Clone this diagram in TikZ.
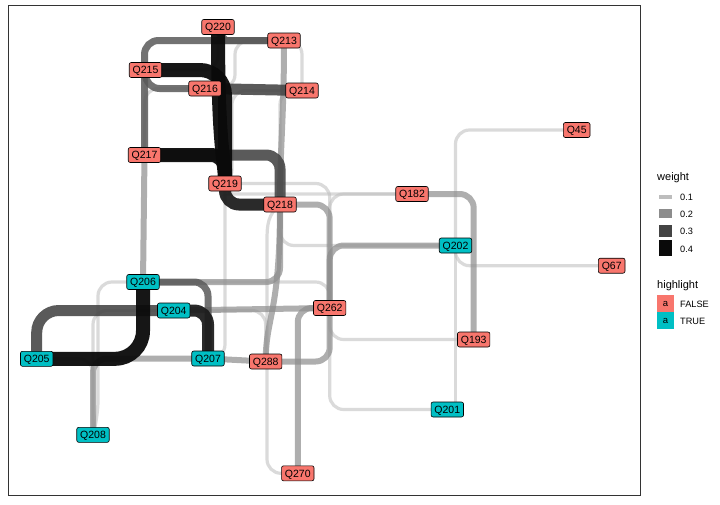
\documentclass[tikz,border=0pt]{standalone}
\usepackage{fontspec}
\setmainfont{Liberation Sans}
\usetikzlibrary{calc}
\pgfdeclarelayer{back}
\pgfdeclarelayer{bg}
\pgfsetlayers{back,bg,main}
\definecolor{fpink}{HTML}{F8766D}
\definecolor{fteal}{HTML}{00BFC4}
\definecolor{cw1}{HTML}{BDBDBD}
\definecolor{cw2}{HTML}{8C8C8C}
\definecolor{cw2d}{HTML}{5A5A5A}
\definecolor{cw3}{HTML}{444444}
\definecolor{cw35}{HTML}{1A1A1A}
\definecolor{cw4}{HTML}{0A0A0A}
\definecolor{frame}{HTML}{333333}
\begin{document}
\begin{tikzpicture}[x=1pt,y=-1pt,
  lab/.style={draw=black, line width=0.6pt, rounded corners=2pt, minimum height=15pt,
    inner xsep=3.4pt, inner ysep=0pt, text height=7.6pt, text depth=0pt,
    font=\fontsize{10.5}{12}\selectfont},
  hf/.style={lab, fill=fpink},
  ht/.style={lab, fill=fteal},
  edge/.style={rounded corners=14pt, line cap=butt},
  w1/.style={edge, draw=cw1, line width=3.2pt, draw opacity=0.55},
  w2/.style={edge, draw=cw2, line width=6pt, draw opacity=0.7},
  w2d/.style={edge, draw=cw2d, line width=7pt, draw opacity=0.85},
  w3/.style={edge, draw=cw3, line width=11pt, draw opacity=0.88},
  w35/.style={edge, draw=cw35, line width=12pt, draw opacity=0.93},
  w4/.style={edge, draw=cw4, line width=14pt, draw opacity=0.95},
  legt/.style={anchor=west, inner sep=0pt, font=\fontsize{11}{13}\selectfont},
  legl/.style={anchor=west, inner sep=0pt, font=\fontsize{9.2}{11}\selectfont},
  legk/.style={inner sep=0pt, font=\fontsize{9.5}{11}\selectfont}
]
\useasboundingbox (0,0) rectangle (720,504);
\begin{pgfonlayer}{back}
\fill[white] (0,0) rectangle (720,504);
\draw[draw=frame, line width=1pt] (8,5) rectangle (640,495);
\end{pgfonlayer}

% nodes
\node[hf] (Q220) at (218,27) {Q220};
\node[hf] (Q213) at (284,40.5) {Q213};
\node[hf] (Q215) at (145.5,70) {Q215};
\node[hf] (Q216) at (205,88.5) {Q216};
\node[hf] (Q214) at (302,90.5) {Q214};
\node[hf] (Q217) at (144.5,155) {Q217};
\node[hf] (Q219) at (225,183.5) {Q219};
\node[hf] (Q218) at (280,204.5) {Q218};
\node[hf] (Q45) at (576.7,130) {Q45};
\node[hf] (Q182) at (412,194) {Q182};
\node[ht] (Q202) at (455.5,245.5) {Q202};
\node[hf] (Q67) at (611.7,265.7) {Q67};
\node[hf] (Q262) at (329.7,308) {Q262};
\node[hf] (Q193) at (473.7,339.5) {Q193};
\node[hf] (Q288) at (265.7,361.5) {Q288};
\node[ht] (Q201) at (447.3,409.5) {Q201};
\node[ht] (Q206) at (143,282) {Q206};
\node[ht] (Q204) at (173.7,310.5) {Q204};
\node[ht] (Q205) at (36.7,358.8) {Q205};
\node[ht] (Q207) at (208,358.5) {Q207};
\node[ht] (Q208) at (93,434.8) {Q208};
\node[hf] (Q270) at (297.8,473.3) {Q270};

\begin{pgfonlayer}{bg}
% weight 0.1
\draw[w1] (Q213.center) -| (Q214.center);
\draw[w1] (Q216.center) -- ++(30,0) |- (Q213.center);
\draw[w1] (Q217.center) |- (Q216.center);
\draw[w1] (Q220.center) |- (Q215.center);
\draw[w1] (Q219.center) -- ++(7,0) |- (Q214.center);
\draw[w1] (Q214.center) -| (Q218.center);
\draw[w1] (Q215.center) -- (Q217.center);
\draw[w1] (Q219.center) to[out=-90,in=180] ++(20,10.5) -- (Q182.center);
\draw[w1] (Q218.center) |- (Q202.center);
\draw[w1] (Q182.center) -| (Q262.center);
\draw[w1] (Q219.center) -| (Q262.center);
\draw[w1] (Q45.center) -| (Q202.center);
\draw[w1] (Q202.center) -- (Q202.center |- Q201.center);
\draw[w1] (Q202.center) |- (Q67.center);
\draw[w1] (Q262.center) |- (Q193.center);
\draw[w1] (Q262.center) |- (Q201.center);
\draw[w1] (Q218.center) .. controls +(-12,10) and +(0,-30) .. ($(Q218.center)+(-13,50)$) |- (Q270.center);
\draw[w1] (Q208.center) |- (Q205.center);
\draw[w1] (Q208.center) -- ++(5,-20) |- (Q206.center);
\draw[w1] (Q208.center) |- (Q204.center);
\draw[w1] (Q206.center) -| (Q262.center);
\draw[w1] (Q219.center) |- (Q207.center);
\draw[w1] (Q204.center) -| (Q288.center);
% weight 0.2
\draw[w2] (Q213.center) .. controls +(0,80) and +(0,-60) .. (Q218.center);
\draw[w2] (Q217.center) -- (Q206.center);
\draw[w2] (Q218.center) -| (Q262.center);
\draw[w2] (Q182.center) -| (Q193.center);
\draw[w2] (Q262.center) |- (Q202.center);
\draw[w2] (Q262.center) |- (Q288.center);
\draw[w2] (Q270.center) |- (Q262.center);
\draw[w2] (Q204.center) -- (Q262.center);
\draw[w2] (Q207.center) -- (Q288.center);
\draw[w2] (Q208.center) |- (Q207.center);
\draw[w2] (Q206.center) -| (Q218.center);
\draw[w2] (Q218.center) .. controls +(0,110) and +(0,-45) .. (Q288.center);
% weight 0.25
\draw[w2d] (Q220.center) to[out=-90,in=180] ++(20,13.5) -- (Q213.center);
\draw[w2d] (Q217.center) |- (Q213.center);
\draw[w2d] (Q215.center) |- (Q216.center);
\draw[w2d] (Q206.center) -| (Q207.center);
% weight 0.3
\draw[w3] (Q216.center) -- (Q214.center);
\draw[w3] (Q217.center) -| (Q218.center);
\draw[w3,rounded corners=22pt] (Q205.center) |- (Q204.center);
% weight 0.35
\draw[w35] (Q204.center) -| (Q207.center);
\draw[w35] (Q219.center) |- (Q218.center);
% weight 0.4
\draw[w4] (Q220.center) .. controls +(0,125) and +(0,-25) .. (Q219.center);
\draw[w4,rounded corners=25pt] (Q215.center) -| (Q219.center);
\draw[w4] (Q217.center) -| (Q219.center);
\draw[w4,rounded corners=28pt] (Q205.center) -| (Q206.center);
\end{pgfonlayer}

% legend: weight
\node[legt] (lw) at (657,178) {weight};
\fill[cw1] (659,194.5) rectangle (672,198.5);
\fill[cw2] (659,209) rectangle (672,218);
\fill[cw3] (659,225) rectangle (672,237);
\fill[cw4] (659,240) rectangle (672,256);
\node[legl] (l1) at (680,197) {0.1};
\node[legl] (l2) at (680,214) {0.2};
\node[legl] (l3) at (680,231.5) {0.3};
\node[legl] (l4) at (680,249) {0.4};
% legend: highlight
\node[legt] (lh) at (657,286) {highlight};
\fill[fpink] (657,295) rectangle (674,312);
\fill[fteal] (657,312) rectangle (674,329);
\node[legk] (ka) at (665.5,304) {a};
\node[legk] (kb) at (665.5,321) {a};
\node[legl] (lf) at (680,304) {FALSE};
\node[legl] (lt) at (680,321.5) {TRUE};
\end{tikzpicture}
\end{document}
